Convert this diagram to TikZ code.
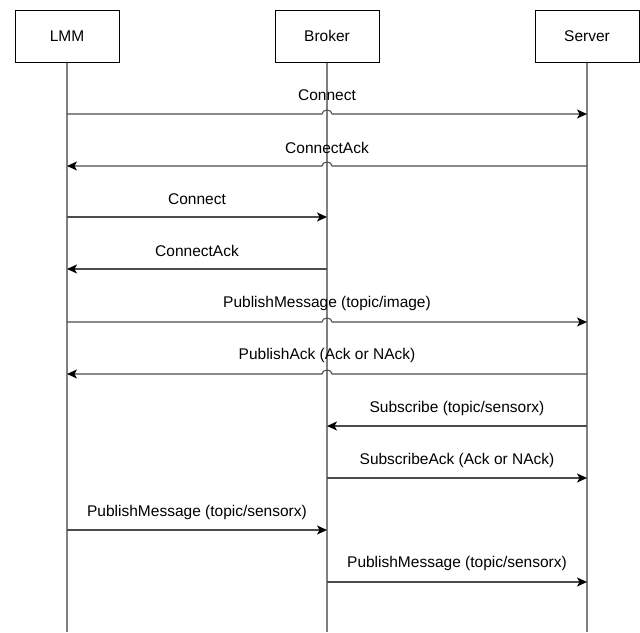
\documentclass[tikz,border=0pt]{standalone}
\usepackage{fontspec}
\setmainfont{Liberation Sans}
\usetikzlibrary{arrows.meta,calc}
\begin{document}
\begin{tikzpicture}[x=1pt,y=-1pt,
  actor/.style={draw=black,line width=1pt,minimum width=104pt,minimum height=52pt,inner sep=0pt,font=\fontsize{15.5}{18}\selectfont},
  life/.style={draw=black!50,line width=1.2pt},
  msg/.style={draw=black!70,line width=1.1pt,-{Stealth[length=10pt,width=9pt,inset=2.5pt,color=black]}},
  lbl/.style={font=\fontsize{15.5}{18}\selectfont,inner sep=0pt}]
\useasboundingbox (0,0) rectangle (640,632);
% actors
\node[actor] (lmm) at (67,36) {LMM};
\node[actor] (broker) at (327,36) {Broker};
\node[actor] (server) at (587,36) {Server};
% lifeline ends
\coordinate (lmmend) at (67,632);
\coordinate (brokerend) at (327,632);
\coordinate (serverend) at (587,632);
\draw[life] (lmm.south) -- (lmmend);
\draw[life] (broker.south) -- (brokerend);
\draw[life] (server.south) -- (serverend);
% message anchors
\foreach \i/\y in {1/114,2/166,3/217,4/269,5/322,6/374,7/426,8/478,9/530,10/582}{
  \coordinate (l\i) at (67,\y);
  \coordinate (b\i) at (327,\y);
  \coordinate (s\i) at (587,\y);
}
% messages
\draw[msg] (l1) -- ($(b1)+(-5,0)$) arc[start angle=180,end angle=360,x radius=5,y radius=4] -- (s1);
\draw[msg] (s2) -- ($(b2)+(5,0)$) arc[start angle=0,end angle=-180,x radius=5,y radius=4] -- (l2);
\draw[msg] (l3) -- (b3);
\draw[msg] (b4) -- (l4);
\draw[msg] (l5) -- ($(b5)+(-5,0)$) arc[start angle=180,end angle=360,x radius=5,y radius=4] -- (s5);
\draw[msg] (s6) -- ($(b6)+(5,0)$) arc[start angle=0,end angle=-180,x radius=5,y radius=4] -- (l6);
\draw[msg] (s7) -- (b7);
\draw[msg] (b8) -- (s8);
\draw[msg] (l9) -- (b9);
\draw[msg] (b10) -- (s10);
% labels
\node[lbl] (t1) at (327,95) {Connect};
\node[lbl] (t2) at (327,148) {ConnectAck};
\node[lbl] (t3) at (197,199) {Connect};
\node[lbl] (t4) at (197,251) {ConnectAck};
\node[lbl] (t5) at (327,303) {PublishMessage (topic/image)};
\node[lbl] (t6) at (327,355) {PublishAck (Ack or NAck)};
\node[lbl] (t7) at (457,408) {Subscribe (topic/sensorx)};
\node[lbl] (t8) at (457,460) {SubscribeAck (Ack or NAck)};
\node[lbl] (t9) at (197,512) {PublishMessage (topic/sensorx)};
\node[lbl] (t10) at (457,563) {PublishMessage (topic/sensorx)};
\end{tikzpicture}
\end{document}
